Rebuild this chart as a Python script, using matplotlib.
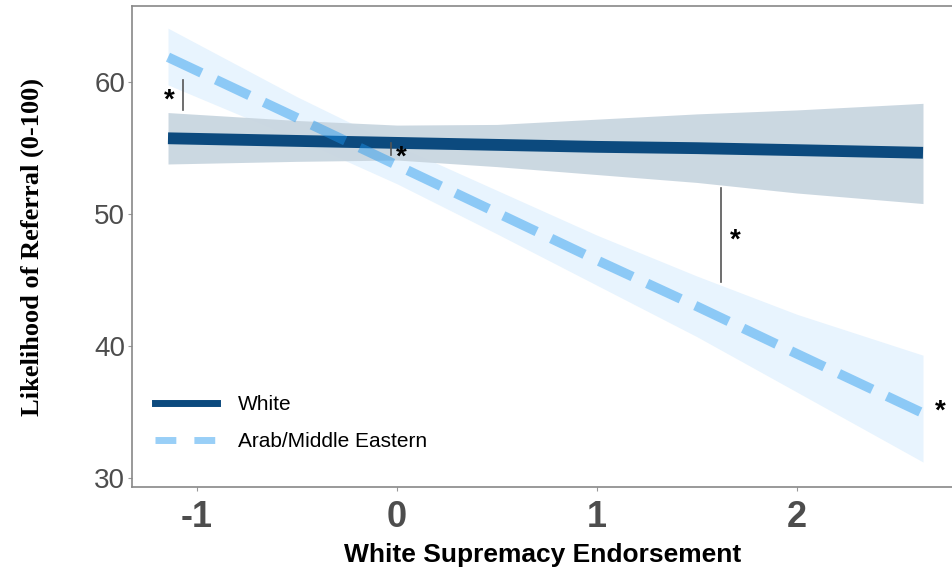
import matplotlib
matplotlib.use("Agg")
import matplotlib.pyplot as plt
from matplotlib.lines import Line2D

# predicted referral likelihood by white supremacy endorsement
x_pts = [-1.145, -0.5, 0.0, 0.5, 1.0, 1.5, 2.0, 2.63]

white_fit = [55.75, 55.55, 55.4, 55.25, 55.1, 55.0, 54.85, 54.65]
white_hi = [57.7, 57.1, 56.75, 56.8, 57.2, 57.6, 57.9, 58.4]
white_lo = [53.8, 54.0, 54.1, 53.6, 53.0, 52.4, 51.6, 50.8]

arab_fit = [61.9, 57.3, 53.7, 50.1, 46.5, 43.0, 39.4, 34.9]
arab_hi = [64.1, 58.9, 55.2, 51.8, 48.4, 45.3, 42.4, 39.3]
arab_lo = [59.8, 55.7, 52.3, 48.5, 44.6, 40.7, 36.5, 31.2]

# significance brackets (x, y_from, y_to) and star positions
sig_bars = [(-1.07, 60.15, 57.9), (-0.03, 55.4, 54.5), (1.62, 52.0, 44.85)]
stars = [(-1.14, 58.6), (0.02, 54.3), (1.69, 48.0), (2.715, 35.0)]

x_ticks = [-1, 0, 1, 2]
y_ticks = [30, 40, 50, 60]

dark = "#0c4a7e"
dash_col = "#1d95ee"

fig = plt.figure(figsize=(9.53, 5.71), dpi=100)
ax = fig.add_axes([0.1385, 0.147, 0.8615, 0.842])

ax.fill_between(x_pts, arab_lo, arab_hi, color="#e8f4fe", lw=0)
ax.fill_between(x_pts, white_lo, white_hi, color="#c9d6e0", alpha=0.95, lw=0)
ax.plot(x_pts, white_fit, color=dark, lw=8.5, solid_capstyle="butt")
ax.plot(x_pts, arab_fit, color=dash_col, alpha=0.45, lw=7, dashes=(3.8, 1.65))

for bx, y0, y1 in sig_bars:
    ax.plot([bx, bx], [y0, y1], color="#555555", lw=1.2)
for sx, sy in stars:
    ax.text(sx, sy, "*", fontsize=20, fontweight="bold", ha="center", va="center",
            family="Liberation Sans")

ax.set_xlim(-1.325, 2.78)
ax.set_ylim(29.3, 65.76)
ax.set_xticks(x_ticks)
ax.set_yticks(y_ticks)
ax.set_xticklabels([str(v) for v in x_ticks], fontsize=26, fontweight="bold",
                   color="#4d4d4d", family="Liberation Sans")
ax.set_yticklabels([str(v) for v in y_ticks], fontsize=20,
                   color="#4d4d4d", family="Liberation Sans")
ax.tick_params(axis="x", length=3, width=0.8, color="#999999", pad=6)
ax.tick_params(axis="y", length=3, width=0.8, color="#999999", pad=2)

for side in ["top", "bottom", "left"]:
    ax.spines[side].set_color("#888888")
    ax.spines[side].set_linewidth(1.2)
ax.spines["right"].set_visible(False)

ax.set_xlabel("White Supremacy Endorsement", fontsize=19, fontweight="bold",
              family="Liberation Sans", labelpad=6)
ax.set_ylabel("Likelihood of Referral (0-100)", fontsize=19, fontweight="bold",
              family="Liberation Serif", labelpad=36)

handles = [Line2D([], [], color=dark, lw=5),
           Line2D([], [], color=dash_col, alpha=0.45, lw=5, dashes=(3, 2.6))]
ax.legend(handles, ["White", "Arab/Middle Eastern"], loc="lower left",
          bbox_to_anchor=(0.005, 0.036), frameon=False,
          handlelength=3.0, handletextpad=1.0, labelspacing=0.85,
          prop={"family": "Liberation Sans", "size": 15})

fig.savefig("out.png", dpi=100)
